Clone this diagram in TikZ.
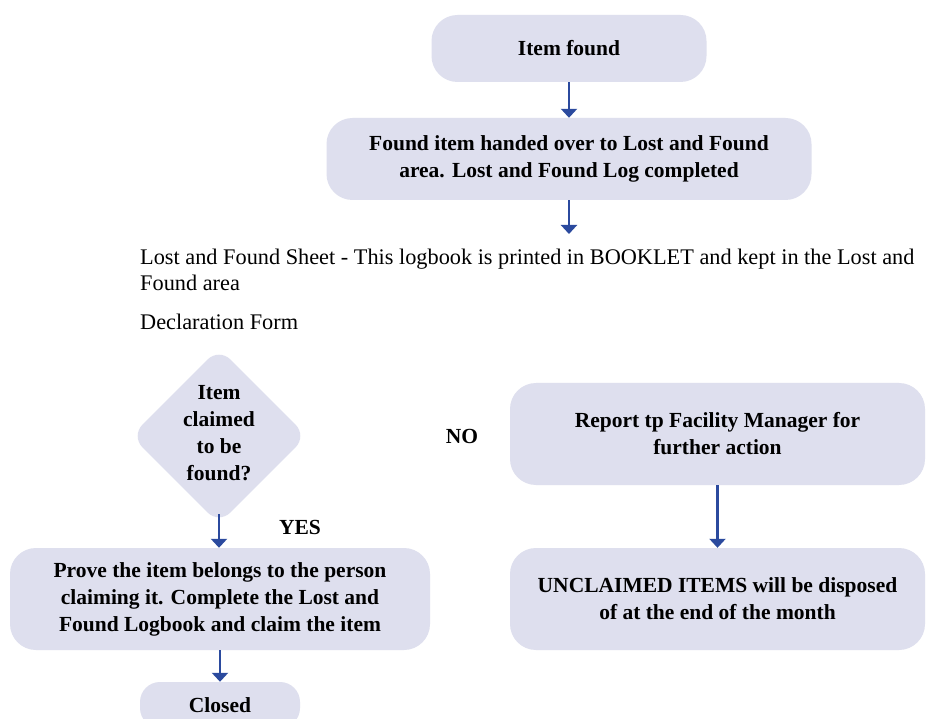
\documentclass[tikz,border=0pt]{standalone}
\usepackage{fontspec}
\setmainfont{Liberation Serif}
\usetikzlibrary{shapes.geometric,arrows.meta}
\definecolor{boxfill}{HTML}{DEDFEE}
\definecolor{arrowblue}{HTML}{2B4A9E}
\tikzset{
  procbox/.style={rectangle, rounded corners=26pt, fill=boxfill, draw=none,
    align=center, font=\fontsize{21.5}{27}\selectfont\bfseries, inner sep=0pt},
  decbox/.style={diamond, aspect=1, rounded corners=16pt, fill=boxfill, draw=none,
    minimum width=176pt, minimum height=176pt, inner sep=0pt},
  lbl/.style={font=\fontsize{21.5}{27}\selectfont\bfseries, inner sep=0pt},
  plain/.style={font=\fontsize{22.3}{26}\selectfont, inner sep=0pt, anchor=base west},
  flow/.style={draw=arrowblue, line width=2.3pt, -{Triangle[width=16pt,length=9pt]}}
}
\begin{document}
\begin{tikzpicture}[x=1pt,y=-1pt]
\clip (0,0) rectangle (927,719);
\fill[white] (0,0) rectangle (927,719);

\node[procbox, minimum width=275pt, minimum height=67pt] (found) at (569,48.5) {Item found};
\node[procbox, minimum width=485pt, minimum height=82pt] (handed) at (569,159)
  {Found item handed over to Lost and Found\\area. Lost and Found Log completed};
\coordinate (handedend) at (569,234);

\node[plain] (sheet1) at (140,265) {Lost and Found Sheet - This logbook is printed in BOOKLET and kept in the Lost and};
\node[plain] (sheet2) at (140,291) {Found area};
\node[plain] (decl) at (140,330) {Declaration Form};

\node[decbox] (claim) at (219,436) {};
\node[lbl, align=center] (claimtext) at (219,433) {Item\\claimed\\to be\\found?};
\coordinate (claimbottom) at ([yshift=10pt]claim.south);

\node[lbl] (yes) at (300,527) {YES};
\node[lbl] (no) at (462,436) {NO};

\node[procbox, minimum width=415pt, minimum height=102pt] (report) at (717.5,434)
  {Report tp Facility Manager for\\further action};
\node[procbox, minimum width=415pt, minimum height=102pt] (unclaimed) at (717.5,599)
  {UNCLAIMED ITEMS will be disposed\\of at the end of the month};
\node[procbox, minimum width=420pt, minimum height=102pt] (prove) at (220,599)
  {Prove the item belongs to the person\\claiming it. Complete the Lost and\\Found Logbook and claim the item};
\node[procbox, minimum width=160pt, minimum height=46pt, rounded corners=20pt] (closed) at (220,705) {Closed};

\draw[flow] (found.south) -- (handed.north);
\draw[flow] (handed.south) -- (handedend);
\draw[flow] (claimbottom) -- (claimbottom |- prove.north);
\draw[flow] (prove.south) -- (closed.north);
\draw[flow] (report.south) -- (unclaimed.north);
\end{tikzpicture}
\end{document}
